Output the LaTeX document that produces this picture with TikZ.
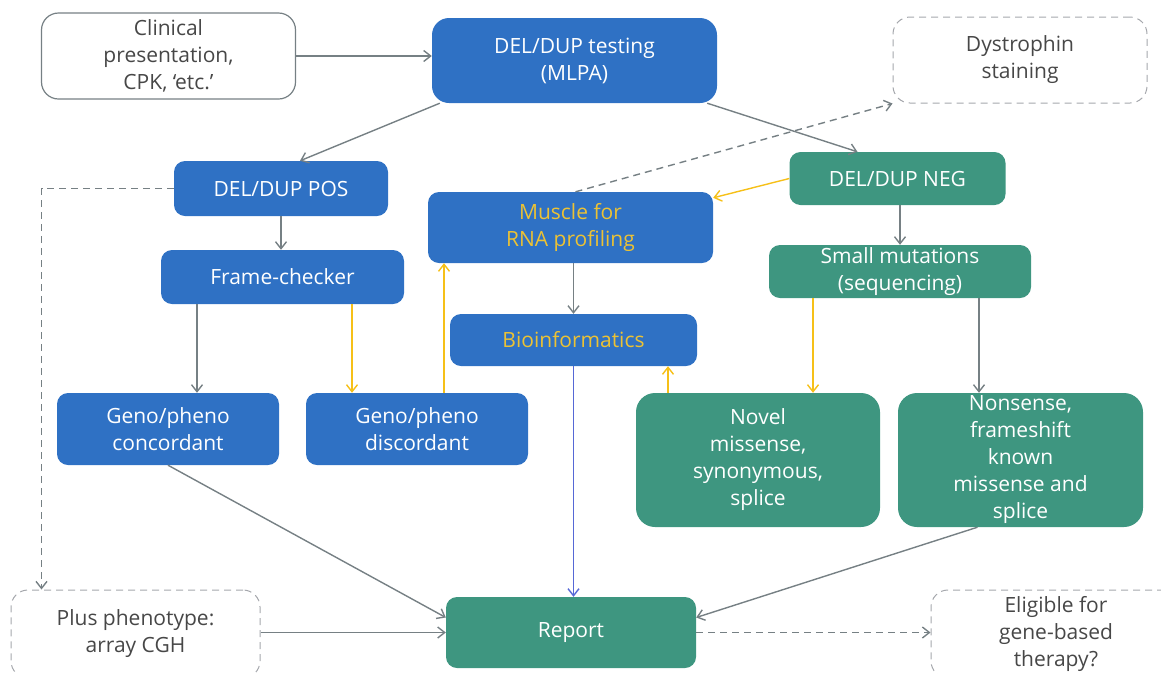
\documentclass[tikz,border=0pt]{standalone}
\usepackage{fontspec}
\setmainfont{Open Sans}
\usetikzlibrary{arrows.meta}

\definecolor{kotakbiru}{RGB}{47,113,196}
\definecolor{kotakhijau}{RGB}{62,150,128}
\definecolor{tekskuning}{RGB}{236,194,52}
\definecolor{garisabu}{RGB}{118,128,132}
\definecolor{gariskuning}{RGB}{246,192,24}
\definecolor{garisbiru}{RGB}{86,104,214}
\definecolor{tepiabu}{RGB}{165,167,172}

\tikzset{
  kotak/.style={rounded corners=11pt, align=center, inner sep=0pt,
    font=\fontsize{21}{27}\selectfont},
  biru/.style={kotak, fill=kotakbiru, text=white},
  birukuning/.style={kotak, fill=kotakbiru, text=tekskuning},
  hijau/.style={kotak, fill=kotakhijau, text=white},
  putih/.style={kotak, rounded corners=17pt, draw=garisabu, line width=1.2pt, text=black!72},
  opsional/.style={kotak, rounded corners=17pt, draw=tepiabu, line width=1pt,
    dash pattern=on 7pt off 5pt, text=black!72},
  panah/.style={draw=garisabu, line width=1.4pt, -{Straight Barb[length=7pt,width=11pt]}},
  panahkuning/.style={panah, draw=gariskuning},
  panahputus/.style={panah, dash pattern=on 7pt off 5pt}
}

\begin{document}
\begin{tikzpicture}[x=1pt, y=-1pt]
    \useasboundingbox (0,0) rectangle (1161,673);

    % Baris atas
    \node[putih, minimum width=254pt, minimum height=86pt] (clin) at (168.5,56) {Clinical\\presentation,\\CPK, `etc.'};
    \node[biru, rounded corners=17pt, minimum width=285pt, minimum height=85pt] (mlpa) at (574.5,60.5) {DEL/DUP testing\\(MLPA)};
    \node[opsional, minimum width=254pt, minimum height=86pt] (dys) at (1020,60) {Dystrophin\\staining};

    % Cabang positif dan negatif
    \node[biru, minimum width=214pt, minimum height=55pt] (pos) at (281,188.5) {DEL/DUP POS};
    \node[hijau, minimum width=216pt, minimum height=53pt] (neg) at (897.5,178.5) {DEL/DUP NEG};
    \node[birukuning, minimum width=285pt, minimum height=71pt] (muscle) at (570.5,227.5) {Muscle for\\RNA profiling};
    \node[biru, minimum width=243pt, minimum height=54pt] (frame) at (282.5,277) {Frame-checker};
    \node[hijau, minimum width=262pt, minimum height=53pt] (small) at (900,271.5) {Small mutations\\(sequencing)};
    \node[birukuning, minimum width=247pt, minimum height=52pt] (bioinf) at (573.5,340) {Bioinformatics};

    % Hasil
    \node[biru, minimum width=222pt, minimum height=72pt] (conc) at (168,429) {Geno/pheno\\concordant};
    \node[biru, minimum width=222pt, minimum height=72pt] (disc) at (417,429) {Geno/pheno\\discordant};
    \node[hijau, rounded corners=19pt, minimum width=244pt, minimum height=134pt] (novel) at (758,460) {Novel\\missense,\\synonymous,\\splice};
    \node[hijau, rounded corners=19pt, minimum width=245pt, minimum height=134pt] (nons) at (1020.5,460) {Nonsense,\\frameshift\\known\\missense and\\splice};

    % Baris bawah
    \node[opsional, minimum width=249pt, minimum height=88pt] (plus) at (135.5,634) {Plus phenotype:\\array CGH};
    \node[hijau, minimum width=250pt, minimum height=71pt] (report) at (571,632.5) {Report};
    \node[opsional, minimum width=250pt, minimum height=88pt] (elig) at (1056,634) {Eligible for\\gene-based\\therapy?};

    % Panah abu-abu
    \draw[panah] (clin.east) -- (clin.east -| mlpa.west);
    \draw[panah] ([xshift=8pt]mlpa.south west) -- ([xshift=19pt]pos.north);
    \draw[panah] ([xshift=-10pt]mlpa.south east) -- ([xshift=-40pt]neg.north);
    \draw[panah] (pos.south) -- (pos.south |- frame.north);
    \draw[panah] ([xshift=29pt]conc.north |- frame.south) -- ([xshift=29pt]conc.north);
    \draw[panah] (bioinf.north |- muscle.south) -- (bioinf.north);
    \draw[panah] (small.north |- neg.south) -- (small.north);
    \draw[panah] ([xshift=79pt]small.south) -- ([xshift=79pt]small.south |- nons.north);
    \draw[panah] (conc.south) -- ([yshift=15pt]report.west);
    \draw[panah] (plus.east |- report.west) -- (report.west);
    \draw[panah] ([xshift=-43pt]nons.south) -- ([yshift=15pt]report.east);
    \draw[panah, draw=garisbiru] (bioinf.south) -- (bioinf.south |- report.north);

    % Panah kuning
    \draw[panahkuning] (neg.west) -- ([yshift=-6pt]muscle.north east);
    \draw[panahkuning] ([xshift=-65pt]disc.north |- frame.south) -- ([xshift=-65pt]disc.north);
    \draw[panahkuning] ([xshift=27pt]disc.north) -- ([xshift=27pt]disc.north |- muscle.south);
    \draw[panahkuning] ([xshift=-90pt]novel.north) -- ([xshift=-90pt]novel.north |- bioinf.south);
    \draw[panahkuning] ([xshift=-87pt]small.south) -- ([xshift=-87pt]small.south |- novel.north);

    % Panah putus-putus
    \draw[panahputus] ([xshift=5pt]muscle.north) -- (dys.south west);
    \draw[panahputus] (pos.west) -| ([xshift=31pt]plus.north west);
    \draw[panahputus] (report.east) -- (report.east -| elig.west);
\end{tikzpicture}
\end{document}
